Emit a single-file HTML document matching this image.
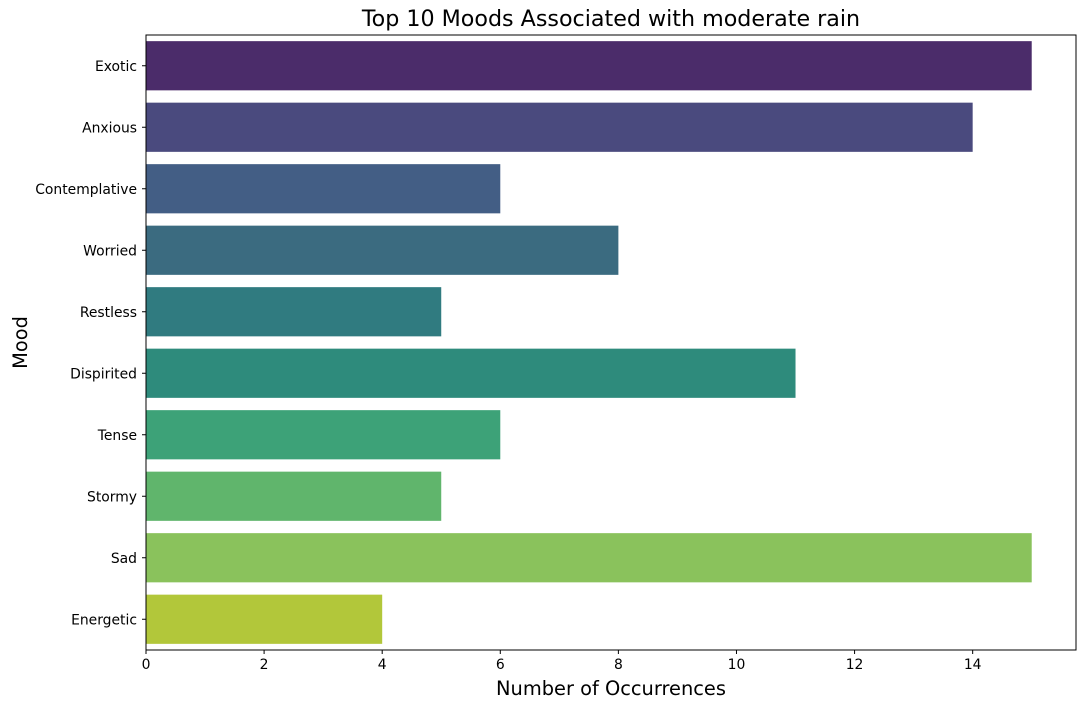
<!DOCTYPE html>
<html><head><meta charset="utf-8"><style>
body{margin:0;background:#fff;}
svg{font-family:"DejaVu Sans","Liberation Sans",sans-serif;}
</style></head><body>
<svg id="chart" width="1086" height="708" xmlns="http://www.w3.org/2000/svg"></svg>
<script>
const categories=["Exotic","Anxious","Contemplative","Worried","Restless","Dispirited","Tense","Stormy","Sad","Energetic"];
const counts=[15,14,6,8,5,11,6,5,15,4];
const colors=["#4b2c6a","#4a4a7e","#435e85","#3b6b80","#307b80","#2e8b7c","#3da278","#60b56c","#8ac25c","#b2c73a"];
const xTicks=[0,2,4,6,8,10,12,14];
const L=146,R=1076,T=35,B=650,xMax=15.75;
const svg=document.getElementById('chart');
const NS="http://www.w3.org/2000/svg";
function x(v){return L+(R-L)*v/xMax;}
const band=(B-T)/categories.length;
function y(i){return T+band*i;}
function mk(tag,attrs,text){const e=document.createElementNS(NS,tag);for(const k in attrs)e.setAttribute(k,attrs[k]);if(text!==undefined)e.textContent=text;svg.appendChild(e);return e;}
categories.forEach((c,i)=>{
  const r=mk('rect',{x:x(0),y:y(i)+band*0.1,width:x(counts[i])-x(0),height:band*0.8,fill:colors[i]});
  
  
  const cy=y(i)+band/2;
  mk('line',{x1:L-4,x2:L,y1:cy,y2:cy,stroke:'#000','stroke-width':1});
  const t=mk('text',{x:L-9,y:cy+5,'text-anchor':'end','font-size':13.9},c);
  
  
});
xTicks.forEach(v=>{
  mk('line',{x1:x(v),x2:x(v),y1:B,y2:B+4,stroke:'#000','stroke-width':1});
  const t=mk('text',{x:x(v),y:B+19,'text-anchor':'middle','font-size':13.9},v);
  
  
});
const f=mk('rect',{x:L,y:T,width:R-L,height:B-T,fill:'none',stroke:'#000','stroke-width':1});


const tt=mk('text',{x:(L+R)/2,y:26,'text-anchor':'middle','font-size':22.2},'Top 10 Moods Associated with moderate rain');


const xl=mk('text',{x:(L+R)/2,y:695,'text-anchor':'middle','font-size':19.4},'Number of Occurrences');


const yl=mk('text',{x:27,y:(T+B)/2,'text-anchor':'middle','font-size':19.4,transform:'rotate(-90 27 '+((T+B)/2)+')'},'Mood');


</script>
</body></html>
